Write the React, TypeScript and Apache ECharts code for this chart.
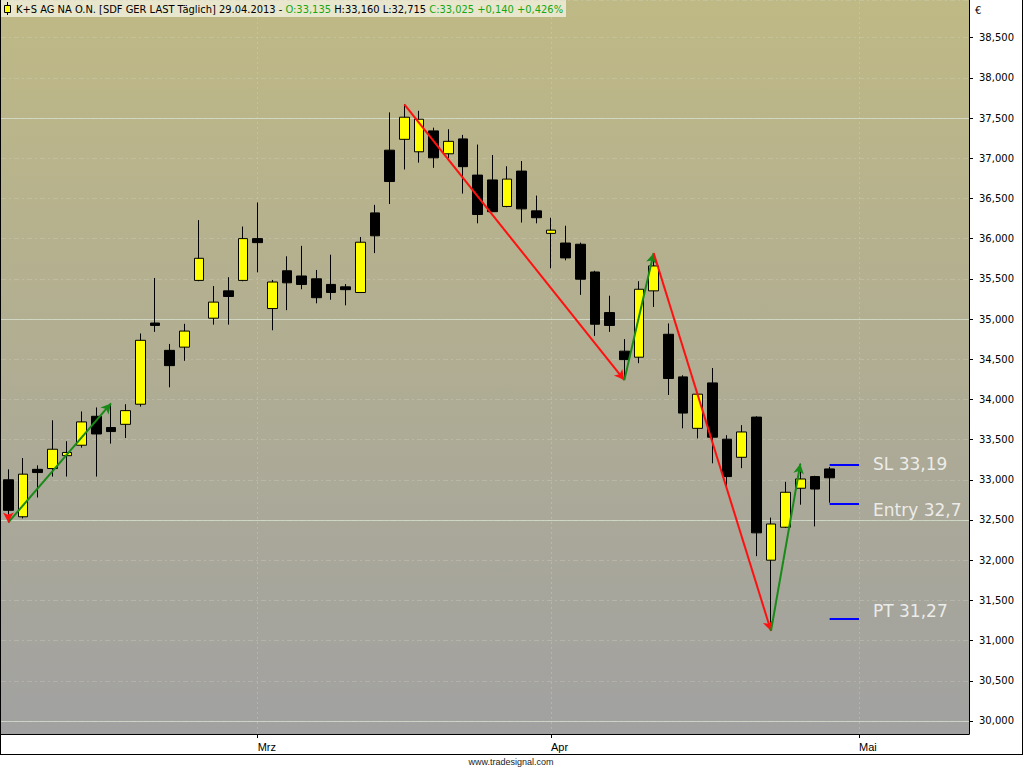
import React, { useEffect, useRef } from "react";
import * as echarts from "echarts";

// ---------- data ----------
const tradingDates = [
  "2013-02-06", "2013-02-07", "2013-02-08", "2013-02-11", "2013-02-12", "2013-02-13", "2013-02-14", "2013-02-15",
  "2013-02-18", "2013-02-19", "2013-02-20", "2013-02-21", "2013-02-22", "2013-02-25", "2013-02-26", "2013-02-27",
  "2013-02-28", "2013-03-01", "2013-03-04", "2013-03-05", "2013-03-06", "2013-03-07", "2013-03-08", "2013-03-11",
  "2013-03-12", "2013-03-13", "2013-03-14", "2013-03-15", "2013-03-18", "2013-03-19", "2013-03-20", "2013-03-21",
  "2013-03-22", "2013-03-25", "2013-03-26", "2013-03-27", "2013-03-28", "2013-04-02", "2013-04-03", "2013-04-04",
  "2013-04-05", "2013-04-08", "2013-04-09", "2013-04-10", "2013-04-11", "2013-04-12", "2013-04-15", "2013-04-16",
  "2013-04-17", "2013-04-18", "2013-04-19", "2013-04-22", "2013-04-23", "2013-04-24", "2013-04-25", "2013-04-26",
  "2013-04-29",
];
const futureDates = [
  "2013-04-30", "2013-05-02", "2013-05-03", "2013-05-06", "2013-05-07", "2013-05-08", "2013-05-09", "2013-05-10", "2013-05-13",
];
const categories = [...tradingDates, ...futureDates];

const openPrices = [
  33.0, 32.54, 33.13, 33.14, 33.3, 33.43, 33.79, 33.65, 33.69, 33.94, 34.95, 34.61, 34.65, 35.48, 35.01, 35.35,
  35.48, 36.0, 35.13, 35.6, 35.535, 35.5, 35.43, 35.4, 35.33, 36.32, 37.1, 37.235, 37.08, 37.34, 37.055, 37.24,
  36.79, 36.73, 36.4, 36.84, 36.345, 36.065, 35.945, 35.93, 35.585, 35.08, 34.6, 34.525, 35.35, 34.81, 34.28, 33.64,
  34.205, 33.505, 33.28, 33.78, 32.0, 32.41, 32.895, 33.04, 33.135,
];
const closePrices = [
  32.62, 33.07, 33.09, 33.38, 33.34, 33.72, 33.57, 33.6, 33.86, 34.735, 34.92, 34.42, 34.85, 35.755, 35.21, 35.28,
  36.0, 35.95, 35.46, 35.45, 35.43, 35.265, 35.33, 35.365, 35.955, 36.035, 36.71, 37.51, 37.485, 37.005, 37.21, 36.895,
  36.3, 36.335, 36.74, 36.37, 36.26, 36.105, 35.76, 35.495, 34.935, 34.92, 34.495, 35.37, 35.66, 34.26, 33.83, 34.065,
  33.53, 33.04, 33.595, 32.34, 32.45, 32.845, 33.01, 32.885, 33.025,
];
const lowPrices = [
  32.47, 32.52, 32.78, 33.04, 33.04, 33.4, 33.04, 33.45, 33.52, 33.91, 34.84, 34.15, 34.48, 35.47, 34.93, 34.93,
  35.47, 35.58, 34.86, 35.11, 35.37, 35.195, 35.24, 35.17, 35.33, 35.82, 36.43, 36.86, 36.945, 36.88, 37.0, 36.56,
  36.19, 36.33, 36.39, 36.2, 36.19, 35.63, 35.73, 35.3, 34.79, 34.84, 34.24, 34.45, 35.15, 34.055, 33.64, 33.515,
  33.205, 32.895, 33.145, 32.05, 31.12, 32.4, 32.69, 32.42, 32.715,
];
const highPrices = [
  33.13, 33.27, 33.18, 33.74, 33.48, 33.85, 33.9, 33.95, 33.94, 34.82, 35.51, 34.69, 34.94, 36.23, 35.41, 35.52,
  36.15, 36.45, 35.485, 35.78, 35.91, 35.61, 35.8, 35.435, 36.02, 36.42, 37.57, 37.67, 37.59, 37.38, 37.36, 37.29,
  37.17, 37.04, 36.9, 36.965, 36.535, 36.26, 36.16, 35.95, 35.6, 35.29, 34.75, 35.47, 35.82, 34.945, 34.3, 34.07,
  34.39, 33.555, 33.68, 33.79, 32.53, 32.975, 33.2, 33.05, 33.16,
];

// zigzag swings (bar indices), up = low -> high, down = high -> low
const swings = [
  { from: 0, to: 7, dir: "up" },
  { from: 27, to: 42, dir: "down" },
  { from: 42, to: 44, dir: "up" },
  { from: 44, to: 52, dir: "down" },
  { from: 52, to: 54, dir: "up" },
];

// trade levels
const levelNames = ["SL", "Entry", "PT"];
const levelValues = [33.19, 32.7, 31.27];

// y axis majors and month names
const majorGridValues = [37.5, 35.0, 32.5, 30.0];
const monthNames = ["Jan", "Feb", "Mrz", "Apr", "Mai", "Jun", "Jul", "Aug", "Sep", "Okt", "Nov", "Dez"];

// header quote
const quoteTitle = "K+S AG NA O.N. [SDF GER LAST Täglich] 29.04.2013 - ";
const quoteOpen = "O:33,135";
const quoteHL = " H:33,160 L:32,715 ";
const quoteClose = "C:33,025 +0,140 +0,426%";

// ---------- styles ----------
const levelLabelOffsets: Record<string, number[]> = { SL: [0, -1], Entry: [0, 6], PT: [0, -8] };

function isMonthStart(i: number) {
  if (i === 0) return false;
  return categories[i].slice(5, 7) !== categories[i - 1].slice(5, 7);
}

export default function App() {
  const ref = useRef<HTMLDivElement>(null);

  useEffect(() => {
    document.body.style.margin = "0";
    const chart = echarts.init(ref.current!, undefined, { renderer: "svg" });

    const candleData = openPrices.map((o, i) => [o, closePrices[i], lowPrices[i], highPrices[i]]);
    const lastIdx = tradingDates.length - 1;

    const zigzagLines: any[] = swings.map((s) => {
      const up = s.dir === "up";
      const v0 = up ? lowPrices[s.from] : highPrices[s.from];
      const v1 = up ? highPrices[s.to] : lowPrices[s.to];
      const color = up ? "#178a17" : "#ff1010";
      return [
        { coord: [categories[s.from], v0], lineStyle: { color } },
        { coord: [categories[s.to], v1] },
      ];
    });
    // lead-in of previous down swing ending at first bar's low
    zigzagLines.push([
      { coord: [categories[0], lowPrices[0] + 0.1], lineStyle: { color: "#ff1010" } },
      { coord: [categories[0], lowPrices[0]] },
    ]);

    const monthStartCats = categories.filter((_, i) => isMonthStart(i));

    const levelLines = levelValues.map((v) => [
      { coord: [categories[lastIdx], v] },
      { coord: [categories[lastIdx + 2], v] },
    ]);
    const levelLabelData = levelValues.map((v, i) => ({
      value: [categories[lastIdx + 2], v],
      name: levelNames[i] + " " + String(v).replace(".", ","),
      label: { offset: levelLabelOffsets[levelNames[i]] },
    }));

    const option: any = {
      animation: false,
      backgroundColor: "#ffffff",
      grid: { left: 1, right: 55, top: 0, bottom: 34 },
      xAxis: {
        type: "category",
        data: categories,
        boundaryGap: true,
        axisLine: { show: true, lineStyle: { color: "#000", width: 1 } },
        axisTick: {
          show: true,
          alignWithLabel: true,
          interval: (i: number) => isMonthStart(i),
          length: 4,
          lineStyle: { color: "#000" },
        },
        axisLabel: {
          interval: (i: number) => isMonthStart(i),
          formatter: (val: string) => monthNames[parseInt(val.slice(5, 7), 10) - 1],
          align: "left",
          margin: 7,
          color: "#000",
          fontFamily: "Liberation Sans Narrow, Liberation Sans, sans-serif",
          fontSize: 11,
        },
        splitLine: { show: false },
      },
      yAxis: {
        type: "value",
        position: "right",
        min: 29.838,
        max: 38.968,
        splitNumber: 18,
        axisLine: { show: true, lineStyle: { color: "#000", width: 1 } },
        axisTick: { show: true, length: 4, lineStyle: { color: "#000" } },
        axisLabel: {
          showMinLabel: false,
          showMaxLabel: false,
          formatter: (v: number) => v.toFixed(3).replace(".", ","),
          color: "#000",
          fontFamily: "DejaVu Sans, sans-serif",
          fontSize: 10,
          margin: 10,
        },
        splitLine: {
          show: true,
          lineStyle: { color: "rgba(215,215,200,0.3)", width: 1, type: [5, 3, 2, 3] },
        },
      },
      graphic: [
        {
          type: "rect",
          z: -10,
          silent: true,
          shape: { x: 1, y: 0, width: 968, height: 734 },
          style: {
            fill: new echarts.graphic.LinearGradient(0, 0, 0, 1, [
              { offset: 0, color: "#bfb985" },
              { offset: 1, color: "#a1a1a1" },
            ]),
          },
        },
        {
          type: "rect",
          z: -9,
          silent: true,
          shape: { x: 1, y: 0, width: 565, height: 17 },
          style: { fill: "#e8e6cc" },
        },
        {
          type: "line",
          z: 20,
          shape: { x1: 7.5, y1: 2, x2: 7.5, y2: 15 },
          style: { stroke: "#000", lineWidth: 1 },
        },
        {
          type: "rect",
          z: 21,
          shape: { x: 4.5, y: 5.5, width: 6, height: 7 },
          style: { fill: "#ffff00", stroke: "#000", lineWidth: 1 },
        },
        {
          type: "text",
          z: 20,
          x: 16,
          y: 9,
          style: {
            text: "{k|" + quoteTitle + "}{g|" + quoteOpen + "}{k|" + quoteHL + "}{g|" + quoteClose + "}",
            verticalAlign: "middle",
            font: "11px 'DejaVu Sans Condensed', 'DejaVu Sans', sans-serif",
            rich: {
              k: { fill: "#000", font: "11px 'DejaVu Sans Condensed', 'DejaVu Sans', sans-serif" },
              g: { fill: "#14a814", font: "11px 'DejaVu Sans Condensed', 'DejaVu Sans', sans-serif" },
            },
          },
        },
        {
          type: "text",
          z: 20,
          x: 975,
          y: 10,
          style: { text: "€", fill: "#000", font: "10px 'DejaVu Sans', sans-serif", verticalAlign: "middle" },
        },
        {
          type: "text",
          z: 20,
          x: 511,
          y: 762,
          style: {
            text: "www.tradesignal.com",
            fill: "#222",
            font: "9px 'Liberation Sans Narrow', 'Liberation Sans', sans-serif",
            align: "center",
            verticalAlign: "middle",
          },
        },
        { type: "line", z: 20, shape: { x1: 0.5, y1: 0, x2: 0.5, y2: 755 }, style: { stroke: "#000", lineWidth: 1 } },
        { type: "line", z: 20, shape: { x1: 0, y1: 754.5, x2: 1023, y2: 754.5 }, style: { stroke: "#000", lineWidth: 1 } },
        { type: "line", z: 20, shape: { x1: 1022.5, y1: 0, x2: 1022.5, y2: 755 }, style: { stroke: "#000", lineWidth: 1 } },
      ],
      series: [
        {
          type: "line",
          data: [],
          z: 1,
          silent: true,
          markLine: {
            z: 1,
            silent: true,
            symbol: ["none", "none"],
            label: { show: false },
            data: [
              ...majorGridValues.map((v) => ({
                yAxis: v,
                lineStyle: { color: "rgba(215,225,210,0.75)", width: 1, type: "solid" },
              })),
              ...monthStartCats.map((c) => ({
                xAxis: c,
                lineStyle: { color: "rgba(215,215,200,0.35)", width: 1, type: [2, 3] },
              })),
            ],
          },
        },
        {
          type: "candlestick",
          data: candleData,
          barWidth: 10,
          z: 2,
          itemStyle: {
            color: "#ffff00",
            color0: "#000000",
            borderColor: "#000000",
            borderColor0: "#000000",
            borderWidth: 1,
          },
        },
        {
          type: "line",
          data: [],
          z: 5,
          silent: true,
          markLine: {
            z: 5,
            silent: true,
            symbol: ["none", "arrow"],
            symbolSize: [8, 10],
            label: { show: false },
            lineStyle: { width: 2, type: "solid" },
            data: zigzagLines,
          },
        },
        {
          type: "line",
          data: [],
          z: 5,
          silent: true,
          markLine: {
            z: 5,
            silent: true,
            symbol: ["none", "none"],
            label: { show: false },
            lineStyle: { color: "#0000ff", width: 2, type: "solid" },
            data: levelLines,
          },
        },
        {
          type: "scatter",
          z: 6,
          silent: true,
          symbolSize: 0,
          data: levelLabelData,
          label: {
            show: true,
            position: "right",
            distance: 14,
            formatter: (p: any) => p.name,
            color: "#ffffff",
            fontFamily: "DejaVu Sans, sans-serif",
            fontSize: 17,
          },
        },
      ],
    };

    chart.setOption(option);
    return () => chart.dispose();
  }, []);

  return <div ref={ref} style={{ width: 1024, height: 768 }} />;
}
